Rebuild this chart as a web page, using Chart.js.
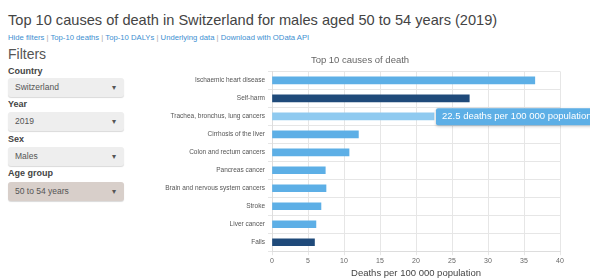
<!DOCTYPE html>
<html>
<head>
<meta charset="utf-8">
<script src="https://cdn.jsdelivr.net/npm/chart.js@4.4.1/dist/chart.umd.min.js"></script>
<style>
  body { margin: 0; width: 590px; height: 280px; overflow: hidden; background: #fff; font-family: "Liberation Sans", Arial, sans-serif; position: relative; }
  h1 { position: absolute; left: 8px; top: 12px; margin: 0; font-size: 14.6px; font-weight: normal; color: #444; white-space: nowrap; }
  .links { position: absolute; left: 8px; top: 33px; font-size: 7.7px; color: #3d8fd1; white-space: nowrap; }
  .links span { color: #aaa; }
  h2 { position: absolute; left: 8px; top: 46px; margin: 0; font-size: 14px; font-weight: normal; color: #555; }
  .lbl { position: absolute; left: 8px; font-size: 9px; font-weight: bold; color: #444; }
  .sel { position: absolute; left: 8px; width: 116px; height: 19px; background: #eee; border-radius: 3px; box-shadow: 0 1px 1px rgba(0,0,0,0.15); font-size: 8.5px; color: #555; line-height: 19px; box-sizing: border-box; padding-left: 7px; }
  .sel::after { content: "\25BE"; position: absolute; right: 8px; top: 0; font-size: 8px; color: #555; }
  .sel.age { background: #d8cfca; }
  #wrap { position: absolute; left: 160px; top: 48px; width: 430px; height: 232px; }
</style>
</head>
<body>
<h1>Top 10 causes of death in Switzerland for males aged 50 to 54 years (2019)</h1>
<div class="links">Hide filters <span>|</span> Top-10 deaths <span>|</span> Top-10 DALYs <span>|</span> Underlying data <span>|</span> Download with OData API</div>
<h2>Filters</h2>
<div class="lbl" style="top:66px">Country</div>
<div class="sel" style="top:78px">Switzerland</div>
<div class="lbl" style="top:99px">Year</div>
<div class="sel" style="top:112px">2019</div>
<div class="lbl" style="top:134px">Sex</div>
<div class="sel" style="top:147px">Males</div>
<div class="lbl" style="top:168px">Age group</div>
<div class="sel age" style="top:182px">50 to 54 years</div>
<div id="wrap"><canvas id="myChart"></canvas></div>
<script>
// causes of death, top 10
const causes = [
  "Ischaemic heart disease",
  "Self-harm",
  "Trachea, bronchus, lung cancers",
  "Cirrhosis of the liver",
  "Colon and rectum cancers",
  "Pancreas cancer",
  "Brain and nervous system cancers",
  "Stroke",
  "Liver cancer",
  "Falls"
];
// deaths per 100 000 population
const deaths = [36.5, 27.4, 22.5, 12.0, 10.7, 7.4, 7.5, 6.8, 6.1, 5.9];
// broad group of each cause (injuries drawn dark)
const groups = ["ncd", "injury", "ncd", "ncd", "ncd", "ncd", "ncd", "ncd", "ncd", "injury"];
const xTicks = [0, 5, 10, 15, 20, 25, 30, 35, 40];
const hovered = 2;

const colors = groups.map((g, i) => {
  if (i === hovered) return "#8fcaf0";
  return g === "injury" ? "#1f4a7a" : "#5dafe6";
});

// fake hover tooltip
const tipPlugin = {
  id: "tip",
  afterDraw(chart) {
    const el = chart.getDatasetMeta(0).data[hovered];
    const c = chart.ctx;
    const txt = deaths[hovered] + " deaths per 100 000 population";
    c.save();
    c.font = "9.5px 'Liberation Sans', Arial, sans-serif";
    const w = c.measureText(txt).width + 12;
    const x = el.x + 2, y = el.y - 8;
    c.shadowColor = "rgba(0,0,0,0.25)";
    c.shadowBlur = 3;
    c.shadowOffsetY = 1;
    c.fillStyle = "#5dafe6";
    c.beginPath();
    c.roundRect(x, y, w, 17, 2);
    c.fill();
    c.shadowColor = "transparent";
    c.fillStyle = "#fff";
    c.textBaseline = "middle";
    c.fillText(txt, x + 6, y + 8.5);
    c.restore();
  }
};

const ctx = document.getElementById("myChart");

new Chart(ctx, {
  type: "bar",
  data: {
    labels: causes,
    datasets: [{
      data: deaths,
      backgroundColor: colors,
      barThickness: 7
    }]
  },
  plugins: [tipPlugin],
  options: {
    indexAxis: "y",
    responsive: true,
    maintainAspectRatio: false,
    animation: false,
    events: [],
    layout: { padding: { left: 0, right: 30, top: 0, bottom: 1 } },
    plugins: {
      legend: { display: false },
      tooltip: { enabled: false },
      title: {
        display: true,
        text: "Top 10 causes of death",
        color: "#666",
        font: { size: 9.5, family: "'Liberation Sans', Arial", weight: "normal" },
        padding: { top: 7, bottom: 5 }
      }
    },
    scales: {
      x: {
        min: 0,
        max: 40,
        afterBuildTicks: (s) => { s.ticks = xTicks.map(v => ({ value: v })); },
        grid: { color: "#e6e6e6", tickLength: 4 },
        border: { color: "#ddd" },
        ticks: { color: "#666", font: { size: 7, family: "'Liberation Sans', Arial" }, padding: 2 },
        title: {
          display: true,
          text: "Deaths per 100 000 population",
          color: "#444",
          font: { size: 9.5, family: "'Liberation Sans', Arial" },
          padding: 0
        }
      },
      y: {
        afterFit: (s) => { s.width = 112; },
        grid: { color: "#e6e6e6", tickLength: 4 },
        border: { color: "#ddd" },
        ticks: { color: "#555", font: { size: 6.5, family: "'Liberation Sans', Arial" }, padding: 3 }
      }
    }
  }
});
</script>
</body>
</html>
